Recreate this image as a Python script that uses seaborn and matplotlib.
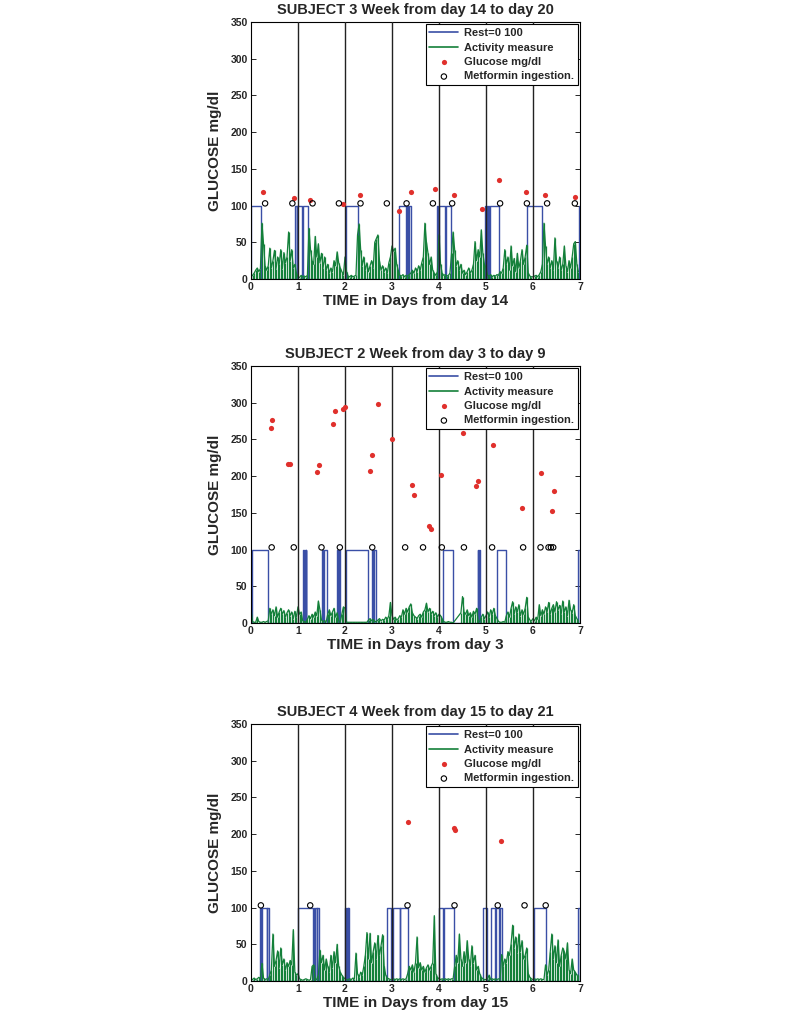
import numpy as np
import pandas as pd
import matplotlib
matplotlib.use("Agg")
import matplotlib.pyplot as plt
import seaborn as sns

# ── data ──────────────────────────────────────────────────────────────────────
SAMPLES_PER_DAY = 30          # activity samples per day
METFORMIN_LEVEL = 103         # height at which ingestions are marked
REST_LEVEL = 100

# Subject 3
s3_title = "SUBJECT 3 Week from day 14 to day 20"
s3_xlabel = "TIME in Days from day 14"
s3_glu_t = [0.26, 0.91, 1.25, 1.96, 2.32, 3.14, 3.40, 3.91, 4.32, 4.91, 5.27, 5.85, 6.26, 6.89]
s3_glu_v = [118, 110, 107, 102, 114, 92, 118, 122, 114, 95, 135, 118, 115, 111]
s3_met_t = [0.30, 0.88, 1.31, 1.87, 2.33, 2.89, 3.31, 3.87, 4.28, 5.30, 5.87, 6.30, 6.89]
s3_rest_on = [0.00, 0.94, 0.98, 1.10, 2.02, 3.14, 3.32, 3.36, 3.96, 3.99, 4.14,
              4.98, 5.01, 5.04, 5.08, 5.88, 6.97]
s3_rest_off = [0.21, 0.97, 1.08, 1.22, 2.28, 3.30, 3.34, 3.40, 3.98, 4.12, 4.25,
               5.00, 5.03, 5.07, 5.28, 6.20, 7.00]
s3_activity = [
    3, 5, 8, 12, 15, 10, 14, 76, 48, 18, 12, 18, 42, 15, 25, 39, 14, 30, 20, 40, 14, 36, 22, 30, 64, 25, 40, 15, 20, 8,   # day 0
    3, 2, 5, 3, 4, 3, 5, 69, 40, 25, 20, 58, 30, 48, 22, 35, 15, 30, 12, 20, 8, 15, 10, 25, 18, 37, 22, 15, 10, 6,       # day 1
    30, 10, 4, 3, 5, 3, 4, 5, 60, 75, 40, 18, 30, 12, 22, 10, 18, 25, 15, 50, 55, 60, 25, 12, 18, 10, 15, 8, 22, 30,     # day 2
    45, 38, 42, 20, 12, 5, 4, 6, 3, 5, 4, 6, 8, 12, 8, 15, 10, 18, 12, 22, 30, 76, 50, 35, 20, 30, 12, 8, 5, 10,         # day 3
    60, 20, 8, 5, 6, 4, 5, 8, 35, 64, 40, 18, 25, 12, 20, 8, 12, 6, 10, 15, 8, 12, 20, 51, 25, 40, 30, 67, 35, 20,       # day 4
    15, 5, 4, 6, 3, 5, 4, 6, 5, 10, 8, 15, 40, 20, 30, 12, 45, 18, 28, 10, 35, 15, 25, 40, 20, 30, 46, 8, 4, 3,          # day 5
    3, 4, 5, 3, 6, 10, 20, 76, 45, 20, 30, 15, 25, 12, 56, 25, 15, 30, 12, 20, 45, 18, 10, 25, 15, 30, 48, 51, 20, 10,   # day 6
]

# Subject 2
s2_title = "SUBJECT 2 Week from day 3 to day 9"
s2_xlabel = "TIME in Days from day 3"
s2_glu_t = [0.42, 0.45, 0.78, 0.82, 1.41, 1.45, 1.74, 1.78, 1.96, 2.01, 2.53, 2.58, 2.70, 3.00,
            3.42, 3.46, 3.78, 3.83, 4.04, 4.52, 4.79, 4.84, 5.14, 5.77, 6.16, 6.40, 6.45]
s2_glu_v = [265, 277, 216, 216, 205, 215, 271, 289, 291, 294, 207, 229, 298, 250,
            188, 174, 132, 128, 202, 259, 187, 194, 243, 157, 204, 153, 180]
s2_met_t = [0.44, 0.91, 1.50, 1.89, 2.58, 3.28, 3.66, 4.06, 4.53, 5.13, 5.79, 6.16, 6.33, 6.38, 6.43]
s2_rest_on = [0.03, 1.10, 1.14, 1.17, 1.52, 1.55, 1.84, 1.87, 2.02, 2.57, 2.61, 4.08, 4.82, 4.85, 5.24, 6.96]
s2_rest_off = [0.37, 1.12, 1.16, 1.18, 1.54, 1.62, 1.86, 1.89, 2.48, 2.60, 2.66, 4.30, 4.84, 4.87, 5.42, 7.00]
nan = np.nan
s2_activity = [
    18, 2, 1, 1, 8, 2, 1, 1, 2, 1, 2, 3, 20, 12, 18, 10, 22, 8, 15, 20, 12, 17, 8, 14, 18, 10, 15, 6, 16, 8,             # day 0
    22, 12, 15, 3, 2, 1, 5, 10, 6, 12, 8, 15, 10, 30, 18, 4, 2, 3, 2, 12, 18, 10, 15, 20, 8, 14, 3, 2, 12, 22,           # day 1
    20, 1, 1, 1, 1, 1, 1, 1, 1, 1, 1, 1, 1, 1, 1, 4, 6, 3, 5, 2, 2, 4, 6, 3, 5, 4, 8, 5, 10, 28,                         # day 2
    10, 5, 8, 4, 6, 10, 8, 18, 12, 20, 15, 22, 26, 14, 10, 8, 6, 10, 12, 8, 15, 18, 27, 15, 20, 12, 16, 10, 14, 8,       # day 3
    12, 10, 6, 2, 1, 1, 2, 1, 1, 0, nan, nan, nan, nan, 14, 36, 15, 12, 18, 10, 14, 8, 16, 12, 20, 3, 2, 8, 12, 6,       # day 4 (gap)
    10, 15, 8, 18, 12, 20, 10, 6, 2, 1, 1, 2, 1, 10, 15, 8, 20, 29, 12, 22, 15, 25, 10, 18, 12, 20, 35, 8, 4, 3,         # day 5
    6, 3, 8, 5, 25, 10, 18, 12, 22, 15, 28, 12, 20, 25, 15, 29, 18, 24, 12, 30, 15, 22, 10, 31, 18, 14, 25, 10, 6, 3,    # day 6
]

# Subject 4
s4_title = "SUBJECT 4 Week from day 15 to day 21"
s4_xlabel = "TIME in Days from day 15"
s4_glu_t = [3.33, 4.32, 4.33, 5.32]
s4_glu_v = [216, 208, 205, 191]
s4_met_t = [0.21, 1.26, 3.33, 4.33, 5.25, 5.82, 6.27]
s4_rest_on = [0.19, 0.23, 0.34, 1.01, 1.33, 1.37, 1.41, 2.01, 2.04, 2.07, 2.90, 3.02, 3.18,
              4.01, 4.10, 4.93, 5.10, 5.22, 5.29, 6.02, 6.95]
s4_rest_off = [0.22, 0.33, 0.38, 1.31, 1.35, 1.40, 1.45, 2.03, 2.06, 2.09, 2.98, 3.16, 3.33,
               4.08, 4.32, 5.02, 5.20, 5.27, 5.33, 6.27, 7.00]
s4_activity = [
    3, 2, 4, 2, 3, 5, 3, 24, 4, 2, 3, 2, 8, 15, 64, 20, 28, 41, 18, 45, 22, 30, 15, 25, 20, 28, 22, 70, 12, 8,           # day 0
    10, 3, 2, 1, 2, 3, 2, 1, 2, 20, 22, 3, 2, 8, 42, 25, 35, 15, 30, 20, 12, 35, 18, 40, 25, 50, 20, 12, 8, 5,           # day 1
    3, 2, 2, 3, 2, 4, 3, 38, 10, 5, 12, 8, 20, 35, 66, 30, 65, 25, 40, 52, 30, 62, 35, 48, 63, 20, 8, 4, 3, 2,           # day 2
    2, 3, 2, 3, 2, 3, 2, 3, 2, 3, 10, 20, 15, 22, 12, 25, 60, 18, 25, 15, 20, 12, 18, 22, 15, 20, 25, 89, 10, 5,         # day 3
    3, 2, 3, 2, 3, 2, 3, 2, 3, 3, 20, 35, 25, 64, 30, 20, 40, 25, 55, 30, 20, 48, 25, 35, 15, 20, 10, 5, 3, 2,           # day 4
    2, 3, 8, 2, 3, 2, 3, 2, 3, 2, 36, 20, 30, 25, 40, 35, 50, 76, 45, 60, 38, 64, 40, 55, 30, 35, 45, 10, 5, 3,          # day 5
    2, 3, 2, 3, 2, 3, 2, 2, 22, 8, 15, 40, 64, 30, 48, 25, 56, 20, 35, 45, 40, 30, 52, 15, 10, 30, 15, 12, 8, 8,         # day 6
]

# ── style ─────────────────────────────────────────────────────────────────────
sns.set_style("ticks")
plt.rcParams["font.family"] = ["Liberation Sans", "DejaVu Sans"]
plt.rcParams["font.weight"] = "bold"

BLUE = "#3a4fa6"
GREEN = "#14803a"
RED = "#e0302c"

panels = [
    dict(title=s3_title, xlabel=s3_xlabel, glu_t=s3_glu_t, glu_v=s3_glu_v, met_t=s3_met_t,
         on=s3_rest_on, off=s3_rest_off, act=s3_activity, bottom=1 - 279 / 1023),
    dict(title=s2_title, xlabel=s2_xlabel, glu_t=s2_glu_t, glu_v=s2_glu_v, met_t=s2_met_t,
         on=s2_rest_on, off=s2_rest_off, act=s2_activity, bottom=1 - 623 / 1023),
    dict(title=s4_title, xlabel=s4_xlabel, glu_t=s4_glu_t, glu_v=s4_glu_v, met_t=s4_met_t,
         on=s4_rest_on, off=s4_rest_off, act=s4_activity, bottom=1 - 981 / 1023),
]


def rest_frame(on, off):
    t, v = [0.0], [0]
    for a, b in zip(on, off):
        t += [a, a, b, b]
        v += [0, REST_LEVEL, REST_LEVEL, 0]
    t.append(7.0)
    v.append(0)
    return pd.DataFrame({"t": t, "v": v})


fig = plt.figure(figsize=(7.87, 10.23), dpi=100)

for p in panels:
    ax = fig.add_axes([251 / 787, p["bottom"], 329 / 787, 257 / 1023])

    rest = rest_frame(p["on"], p["off"])
    sns.lineplot(data=rest, x="t", y="v", ax=ax, color=BLUE, lw=1.0,
                 estimator=None, sort=False, label="Rest=0 100")

    act = pd.DataFrame({"t": np.arange(len(p["act"])) / SAMPLES_PER_DAY,
                        "v": p["act"]})
    ax.vlines(act["t"], 0, act["v"], color=GREEN, lw=0.9, zorder=2)
    sns.lineplot(data=act.dropna(), x="t", y="v", ax=ax, color=GREEN, lw=0.9,
                 estimator=None, sort=False, label="Activity measure")

    sns.scatterplot(x=p["glu_t"], y=p["glu_v"], ax=ax, color=RED, s=14,
                    linewidth=0, label="Glucose mg/dl", zorder=4)
    sns.scatterplot(x=p["met_t"], y=[METFORMIN_LEVEL] * len(p["met_t"]), ax=ax,
                    marker="o", facecolor="none", edgecolor="black", s=15,
                    linewidth=0.8, label="Metformin ingestion.", zorder=4)

    for d in range(1, 7):
        ax.axvline(d, color="#222222", lw=1.0, zorder=3)

    ax.set_xlim(0, 7)
    ax.set_ylim(0, 350)
    ax.set_xticks(range(0, 8))
    ax.set_yticks(range(0, 351, 50))
    ax.tick_params(direction="in", length=3.5, width=0.7, top=True, right=True,
                   labelsize=7.5, pad=2.5)
    for lab in ax.get_xticklabels() + ax.get_yticklabels():
        lab.set_fontweight("bold")
    for sp in ax.spines.values():
        sp.set_visible(True)
        sp.set_linewidth(0.8)
        sp.set_color("black")

    ax.set_title(p["title"], fontsize=10.5, fontweight="bold", pad=6)
    ax.set_xlabel(p["xlabel"], fontsize=11, fontweight="bold", labelpad=1)
    ax.set_ylabel("GLUCOSE mg/dl", fontsize=11, fontweight="bold", labelpad=6)

    leg = ax.legend(loc="upper right", frameon=True, fancybox=False, framealpha=1,
                    edgecolor="black", borderaxespad=0.2, handlelength=2.6,
                    handletextpad=0.5, labelspacing=0.4, borderpad=0.35,
                    prop={"size": 8, "weight": "bold"})
    leg.get_frame().set_linewidth(0.8)
    for h in leg.get_lines():
        h.set_linewidth(1.2)
    leg.set_zorder(10)

fig.savefig("out.png", dpi=100)
